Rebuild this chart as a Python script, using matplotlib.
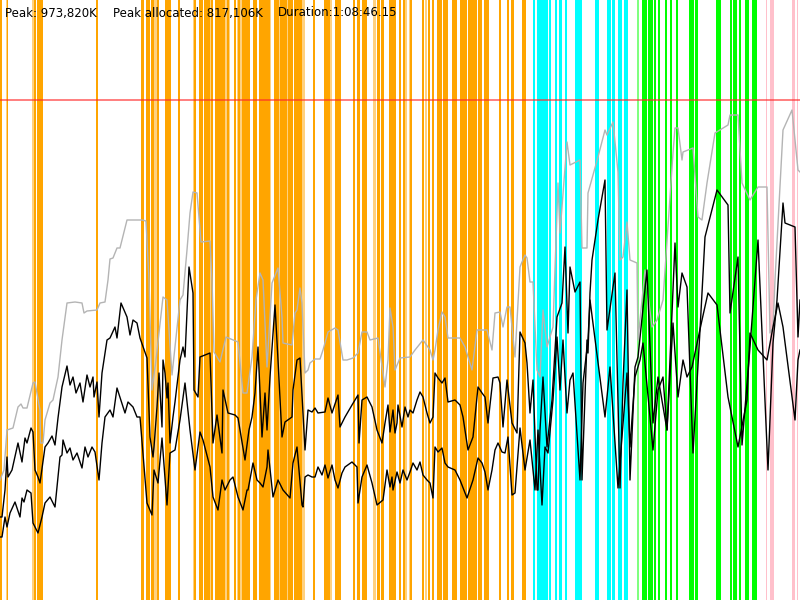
import matplotlib
matplotlib.use("Agg")
import matplotlib.pyplot as plt

# memory trace, x = time step across the run, values in chart units (peak = 500)
peak_level = 500

gray_t = [0, 4, 7, 13, 18, 21, 23, 27, 33, 35, 40, 40.5, 43, 45, 50, 53, 58, 62, 67, 75, 82, 84, 87, 97, 100,
          105, 108, 110, 113, 117, 120, 127, 142, 146, 149, 152, 156, 163, 167, 172, 180, 183, 187, 190, 193,
          197, 201, 210, 212, 214, 220, 226, 238, 243, 247, 252, 256, 260, 263, 267, 272, 278, 282, 283, 292,
          295, 297, 300, 302, 305, 308, 310, 315, 320, 323, 328, 335, 338, 343, 347, 353, 358, 362, 367, 370,
          378, 385, 388, 390, 393, 395, 400, 410, 415, 423, 430, 433, 435, 438, 442, 445, 448, 460, 465, 472,
          477, 487, 492, 495, 500, 503, 507, 510, 515, 520, 522, 525, 527, 530, 533, 537, 540, 543, 547, 553,
          558, 560, 567, 570, 580, 582, 587, 588, 598, 605, 607, 613, 618, 620, 623, 627, 630, 637, 638, 645,
          652, 657, 663, 673, 675, 678, 682, 683, 693, 698, 702, 707, 715, 728, 730, 738, 742, 750, 758, 767,
          770, 773, 775, 783, 792, 798, 800]
gray_v = [120, 130, 170, 172, 193, 196, 192, 192, 217, 218, 190, 157, 157, 180, 197, 200, 223, 260, 297, 298,
          297, 287, 289, 290, 297, 298, 320, 341, 342, 352, 352, 380, 380, 379, 320, 210, 240, 303, 300, 225,
          300, 305, 350, 387, 408, 407, 358, 359, 320, 248, 238, 263, 258, 207, 207, 243, 300, 327, 320, 233,
          317, 332, 283, 257, 255, 287, 290, 312, 297, 227, 230, 237, 241, 241, 250, 268, 272, 270, 240, 240,
          242, 247, 268, 268, 260, 262, 213, 240, 292, 273, 230, 242, 243, 250, 260, 250, 240, 250, 270, 288,
          283, 262, 262, 253, 230, 270, 270, 250, 287, 288, 273, 293, 293, 243, 333, 338, 345, 342, 318, 318,
          230, 223, 290, 253, 273, 417, 367, 458, 435, 440, 352, 352, 407, 443, 470, 465, 478, 428, 340, 343,
          378, 340, 337, 260, 330, 273, 280, 300, 447, 472, 472, 440, 448, 452, 383, 380, 417, 467, 475, 485,
          485, 417, 400, 413, 413, 267, 272, 320, 470, 490, 430, 428]

upper_t = [0, 2, 5, 7, 8, 12, 18, 22, 25, 27, 31, 33, 35, 38, 40, 45, 48, 52, 55, 58, 62, 67, 70, 73, 76, 80,
           83, 87, 90, 93, 94, 97, 99, 102, 107, 110, 115, 117, 121, 127, 130, 133, 137, 140, 147, 150, 153,
           154, 157, 159, 162, 163, 165, 167, 168, 170, 173, 175, 180, 183, 185, 189, 193, 194, 198, 200, 210,
           213, 217, 222, 223, 228, 235, 238, 245, 249, 252, 255, 258, 262, 265, 267, 270, 275, 278, 282, 285,
           292, 293, 297, 300, 303, 305, 308, 312, 315, 318, 325, 328, 332, 338, 340, 345, 352, 358, 359, 362,
           367, 372, 377, 382, 385, 388, 390, 393, 395, 397, 398, 402, 405, 408, 410, 413, 417, 420, 423, 427,
           430, 433, 435, 438, 442, 445, 448, 455, 460, 463, 468, 473, 478, 482, 485, 488, 493, 498, 500, 503,
           507, 512, 517, 520, 525, 527, 530, 533, 537, 538, 540, 543, 547, 552, 557, 562, 565, 568, 570, 575,
           580, 582, 587, 588, 590, 592, 598, 605, 607, 615, 620, 623, 627, 630, 635, 638, 647, 653, 658, 667,
           675, 678, 682, 687, 693, 700, 705, 717, 728, 730, 738, 742, 750, 758, 768, 773, 777, 783, 785, 795,
           798, 800]
upper_v = [83, 83, 110, 143, 123, 130, 157, 138, 162, 157, 172, 168, 130, 123, 117, 153, 157, 164, 155, 182,
           213, 234, 215, 223, 207, 217, 198, 225, 213, 223, 203, 218, 183, 227, 260, 262, 273, 262, 297, 283,
           265, 280, 277, 262, 242, 163, 143, 153, 193, 227, 173, 240, 227, 202, 217, 157, 183, 198, 240, 253,
           243, 333, 307, 210, 203, 243, 247, 157, 185, 147, 210, 187, 185, 182, 140, 170, 183, 207, 253, 163,
           207, 170, 223, 295, 240, 163, 178, 183, 210, 240, 242, 187, 150, 190, 188, 192, 187, 188, 202, 187,
           205, 173, 183, 195, 205, 157, 200, 203, 193, 170, 157, 177, 195, 168, 190, 167, 177, 195, 173, 193,
           183, 190, 187, 200, 208, 203, 187, 177, 183, 227, 222, 217, 222, 198, 200, 195, 183, 150, 163, 213,
           207, 203, 177, 222, 223, 217, 173, 220, 177, 167, 268, 257, 237, 187, 220, 110, 110, 170, 223, 153,
           200, 283, 297, 353, 267, 333, 308, 318, 120, 260, 247, 307, 340, 380, 420, 270, 327, 112, 217, 310,
           120, 233, 243, 330, 177, 223, 170, 357, 293, 327, 313, 147, 270, 363, 410, 395, 287, 343, 155, 253,
           360, 130, 257, 300, 397, 377, 373, 263, 300]

lower_t = [0, 2, 5, 7, 10, 15, 20, 22, 24, 27, 31, 33, 38, 42, 45, 50, 55, 60, 62, 63, 67, 70, 73, 77, 82, 85,
           88, 92, 95, 99, 102, 105, 110, 113, 117, 125, 128, 133, 137, 140, 147, 152, 154, 158, 162, 167, 170,
           175, 180, 185, 190, 195, 200, 203, 210, 213, 218, 222, 225, 230, 233, 238, 243, 247, 248, 253, 257,
           260, 263, 267, 268, 273, 278, 283, 290, 293, 297, 302, 303, 305, 308, 312, 315, 318, 322, 325, 328,
           332, 335, 338, 342, 345, 352, 357, 358, 362, 367, 372, 377, 383, 387, 390, 392, 393, 397, 400, 403,
           407, 410, 413, 417, 420, 423, 427, 430, 433, 435, 438, 442, 445, 448, 455, 460, 467, 473, 478, 482,
           485, 488, 492, 495, 498, 502, 505, 508, 512, 515, 520, 525, 530, 535, 538, 542, 545, 548, 553, 557,
           560, 563, 567, 570, 573, 580, 583, 588, 590, 605, 610, 618, 627, 630, 635, 640, 643, 650, 653, 658,
           663, 667, 673, 678, 683, 687, 692, 702, 708, 717, 728, 738, 747, 750, 758, 767, 773, 778, 783, 795,
           798, 800]
lower_v = [63, 63, 83, 73, 87, 98, 83, 102, 98, 110, 107, 77, 67, 83, 97, 103, 93, 143, 145, 160, 147, 152, 140,
           147, 132, 153, 143, 153, 148, 120, 157, 183, 190, 183, 212, 187, 198, 193, 183, 183, 97, 85, 130, 117,
           162, 95, 147, 150, 180, 217, 170, 130, 168, 160, 133, 103, 90, 120, 110, 120, 123, 103, 90, 110, 110,
           137, 120, 117, 113, 133, 150, 103, 120, 110, 102, 137, 153, 95, 93, 123, 125, 123, 123, 133, 125, 135,
           122, 135, 120, 112, 127, 133, 138, 133, 97, 123, 135, 117, 95, 100, 130, 113, 123, 110, 128, 117, 130,
           120, 128, 137, 130, 138, 125, 120, 117, 102, 153, 148, 152, 137, 133, 130, 120, 102, 120, 142, 137,
           128, 110, 130, 150, 157, 148, 147, 163, 105, 107, 172, 130, 160, 110, 170, 95, 153, 147, 200, 263,
           210, 260, 187, 220, 227, 120, 217, 260, 300, 183, 233, 112, 227, 153, 223, 240, 257, 183, 150, 210,
           223, 170, 277, 203, 240, 223, 233, 280, 307, 295, 203, 153, 200, 267, 250, 240, 273, 297, 273, 180,
           240, 250]

# phase markers (start, end)
orange_spans = [(0, 2), (7, 8), (33.5, 36), (37, 43), (96, 97.5), (141, 144), (146, 150), (151, 154),
                (157, 159), (165, 171), (178, 180), (193.5, 196), (199, 203), (203.5, 210), (211, 213),
                (215, 225), (227, 229), (234, 236), (238, 239.5), (242, 250), (253, 257), (259, 270),
                (274, 279), (280, 287), (288, 293), (294, 302), (313, 315), (324, 330), (335, 341),
                (353, 355), (357, 360), (362, 367), (377, 380), (381, 384), (389, 396), (399, 401),
                (403, 404.5), (410, 412), (422, 423.5), (428, 430), (432, 434), (437, 442), (443, 448),
                (452, 457), (460, 467), (467.5, 477), (477.5, 482), (484, 489), (499, 501), (507, 509),
                (511, 514), (522, 526)]
orange_faint = [(6, 7), (32, 33.5), (154, 157), (192.5, 193.5), (210, 211), (225, 227), (229, 230),
                (236.5, 237.5), (240, 241.5), (270, 271), (279, 280), (287, 288), (302, 305), (330, 332),
                (373, 376), (405, 407), (409, 410), (425, 427)]
cyan_spans = [(533, 535), (537, 548), (549, 551), (555, 557), (559, 562), (565, 567), (575, 582),
              (595, 599), (607, 611), (612, 615), (618, 622), (624, 628)]
green_spans = [(642, 647), (648, 653), (654, 656), (658, 660), (665, 667), (670, 672), (676, 678),
               (689, 694), (695, 698), (716, 721), (730, 732), (733, 737), (739, 741), (745, 749),
               (752, 757)]
green_faint = [(637, 639)]
pink_spans = [(766, 767), (770, 774), (792, 795), (797, 798)]

fig = plt.figure(figsize=(8, 6), dpi=100)
ax = fig.add_axes([0, 0, 1, 1])
ax.set_xlim(0, 800)
ax.set_ylim(0, 600)
ax.axis("off")

for spans, col, a in [(orange_spans, "#ffa500", 1.0), (orange_faint, "#ffa500", 0.5),
                      (cyan_spans, "#00ffff", 1.0), (green_spans, "#00ff00", 1.0),
                      (green_faint, "#00ff00", 0.5), (pink_spans, "#ffc0cb", 1.0)]:
    for s, e in spans:
        ax.axvspan(s, e, color=col, alpha=a, lw=0)

ax.axhline(peak_level, color="#ff2a2a", alpha=0.7, lw=1.2)

ax.plot(gray_t, gray_v, color="#b4b4b4", lw=1)
ax.plot(lower_t, lower_v, color="black", lw=1)
ax.plot(upper_t, upper_v, color="black", lw=1)

fs = 8.5
fig.text(5 / 800, 1 - 13 / 600, "Peak: 973,820K", fontsize=fs, va="center")
fig.text(113 / 800, 1 - 13 / 600, "Peak allocated: 817,106K", fontsize=fs, va="center")
fig.text(278 / 800, 1 - 13 / 600, "Duration:1:08:46.15", fontsize=fs, va="center")

fig.savefig("out.png", dpi=100)
